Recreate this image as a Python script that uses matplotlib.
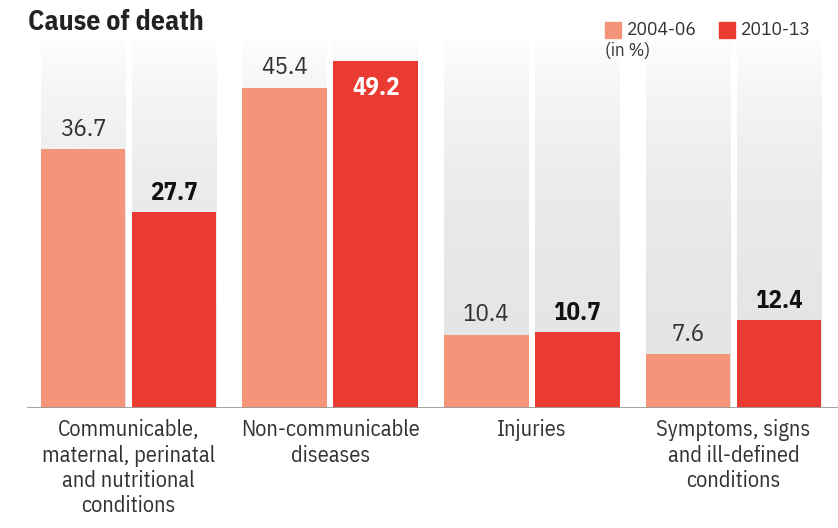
import numpy as np
import matplotlib
matplotlib.use("Agg")
import matplotlib.pyplot as plt
from matplotlib.patches import Rectangle

categories = [
    "Communicable,\nmaternal, perinatal\nand nutritional\nconditions",
    "Non-communicable\ndiseases",
    "Injuries",
    "Symptoms, signs\nand ill-defined\nconditions",
]
series_names = ["2004-06", "2010-13"]
values_2004 = [36.7, 45.4, 10.4, 7.6]
values_2010 = [27.7, 49.2, 10.7, 12.4]

ORANGE = "#f4957a"
RED = "#e93b32"
plt.rcParams["font.family"] = ["IBM Plex Sans Condensed", "DejaVu Sans"]

fig = plt.figure(figsize=(8.38, 5.28), dpi=100)
ax = fig.add_axes([0, 120 / 528, 1, 408 / 528])

x = np.arange(len(categories))
width = 0.421
offset = 0.2256
col_top = 52.1

# gray gradient column behind each bar
grad = np.linspace(0, 1, 256).reshape(-1, 1)
grad = 0.895 + 0.095 * grad ** 2.5
for xi in x:
    for dx in (-offset, offset):
        ax.imshow(grad, cmap="gray", vmin=0, vmax=1, origin="lower",
                  extent=[xi + dx - width / 2, xi + dx + width / 2, 0, col_top],
                  aspect="auto", zorder=0, interpolation="bilinear")

ax.bar(x - offset, values_2004, width, color=ORANGE, zorder=2)
ax.bar(x + offset, values_2010, width, color=RED, zorder=2)

for xi, v in zip(x, values_2004):
    ax.text(xi - offset, v + 2.8, f"{v}", ha="center", va="center",
            fontsize=18, color="#333333", zorder=3)
vmax = max(values_2010)
for xi, v in zip(x, values_2010):
    if v == vmax:
        ax.text(xi + offset, v - 3.8, f"{v}", ha="center", va="center",
                fontsize=18, fontweight="bold", color="white", zorder=3)
    else:
        ax.text(xi + offset, v + 2.7, f"{v}", ha="center", va="center",
                fontsize=18, fontweight="bold", color="#111111", zorder=3)

ax.axhline(0, xmin=28 / 838, xmax=1, color="#9a9a9a", lw=2, zorder=4)

ax.set_xlim(-0.637, 3.518)
ax.set_ylim(0, 57.8)
ax.set_xticks(x)
ax.set_xticklabels(categories, fontsize=16, color="#333333", linespacing=1.2)
ax.tick_params(axis="x", length=0, pad=8)
ax.set_yticks([])
for s in ax.spines.values():
    s.set_visible(False)
ax.patch.set_alpha(0)

fig.text(28 / 838, 1 - 23 / 528, "Cause of death", fontsize=20,
         fontweight="bold", color="#222222", va="center", ha="left")

# legend
for i, (name, c) in enumerate(zip(series_names, [ORANGE, RED])):
    lx = [605, 719][i]
    fig.patches.append(Rectangle((lx / 838, 1 - 38 / 528), 16 / 838, 16 / 528,
                                 transform=fig.transFigure, color=c))
    fig.text((lx + 22) / 838, 1 - 30 / 528, name, fontsize=14, color="#333333",
             va="center", ha="left")
fig.text(605 / 838, 1 - 51 / 528, "(in %)", fontsize=13.5, color="#333333",
         va="center", ha="left")

fig.savefig("out.png", dpi=100)
